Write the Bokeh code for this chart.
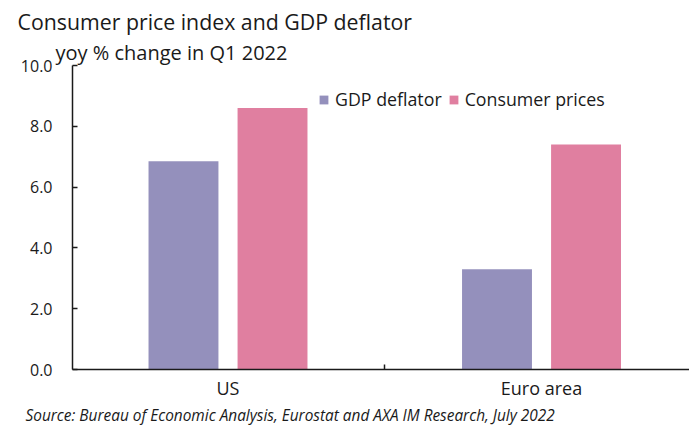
from bokeh.plotting import figure
from bokeh.models import (Range1d, FixedTicker, Title, Legend, LegendItem,
                          ColumnDataSource, CustomJSTickFormatter)
from bokeh.embed import file_html
from bokeh.resources import INLINE

# ---- data ----
regions = ["US", "Euro area"]
series_names = ["GDP deflator", "Consumer prices"]
gdp_deflator = [6.85, 3.3]
consumer_prices = [8.6, 7.4]
y_ticks = [0, 2, 4, 6, 8, 10]

title_text = "Consumer price index and GDP deflator"
subtitle_text = "yoy % change in Q1 2022"
source_text = "Source: Bureau of Economic Analysis, Eurostat and AXA IM Research, July 2022"

colors = ["#9490BC", "#E07FA0"]
FONT = "Open Sans"
TXT = "#1a1a1a"

W, H = 689, 425
p = figure(width=W, height=H, output_backend="svg", toolbar_location=None,
           x_range=Range1d(-0.496, 1.472), y_range=Range1d(0, 10),
           min_border_left=72, min_border_right=0, min_border_top=65,
           min_border_bottom=52)
p.background_fill_color = None
p.border_fill_color = "white"
p.outline_line_color = None
p.grid.visible = False

xs = list(range(len(regions)))
offset = 0.142
bw = 0.223
src = ColumnDataSource(dict(
    x_gdp=[x - offset for x in xs],
    x_cp=[x + offset for x in xs],
    gdp=gdp_deflator, cp=consumer_prices))
r1 = p.vbar(x="x_gdp", top="gdp", width=bw, source=src, fill_color=colors[0], line_color=None)
r2 = p.vbar(x="x_cp", top="cp", width=bw, source=src, fill_color=colors[1], line_color=None)

# y axis
ya = p.yaxis[0]
ya.ticker = FixedTicker(ticks=y_ticks, minor_ticks=[])
ya.formatter = CustomJSTickFormatter(code="return tick.toFixed(1);")
ya.major_tick_in = 5
ya.major_tick_out = 0
ya.minor_tick_in = 0
ya.minor_tick_out = 0
ya.axis_line_color = TXT
ya.axis_line_width = 1.5
ya.major_tick_line_color = TXT
ya.major_tick_line_width = 1.5
ya.major_label_text_font = FONT
ya.major_label_text_font_size = "16px"
ya.major_label_text_color = TXT
ya.major_label_standoff = 20

# x axis
xa = p.xaxis[0]
xa.ticker = FixedTicker(ticks=xs, minor_ticks=[0.5])
xa.major_label_overrides = {i: r for i, r in enumerate(regions)}
xa.major_tick_in = 0
xa.major_tick_out = 0
xa.minor_tick_in = 5
xa.minor_tick_out = 0
xa.minor_tick_line_color = TXT
xa.minor_tick_line_width = 1.5
xa.axis_line_color = TXT
xa.axis_line_width = 1.5
xa.major_label_text_font = FONT
xa.major_label_text_font_size = "18px"
xa.major_label_text_color = TXT
xa.major_label_standoff = 6

# legend
legend = Legend(items=[LegendItem(label=series_names[0], renderers=[r1]),
                       LegendItem(label=series_names[1], renderers=[r2])],
                orientation="horizontal", location=(246, 258),
                glyph_width=11, glyph_height=11, label_standoff=6, spacing=6,
                padding=0, margin=0, background_fill_alpha=0, border_line_color=None,
                label_text_font=FONT, label_text_font_size="17.8px",
                label_text_color=TXT)
p.add_layout(legend, "center")

# titles (first added sits nearest the frame)
p.add_layout(Title(text=subtitle_text, align="left", offset=-17, standoff=0,
                   text_font=FONT, text_font_size="20px", text_font_style="normal",
                   text_line_height=1.0, text_color=TXT), "above")
p.add_layout(Title(text=title_text, align="left", offset=-55, standoff=2,
                   text_font=FONT, text_font_size="21.3px", text_font_style="normal",
                   text_color=TXT), "above")
p.add_layout(Title(text=source_text, align="left", offset=-47, standoff=0,
                   text_font=FONT, text_font_size="15.4px", text_font_style="italic",
                   text_line_height=0.8, text_color=TXT), "below")

open("out.html", "w").write(file_html(p, INLINE))
